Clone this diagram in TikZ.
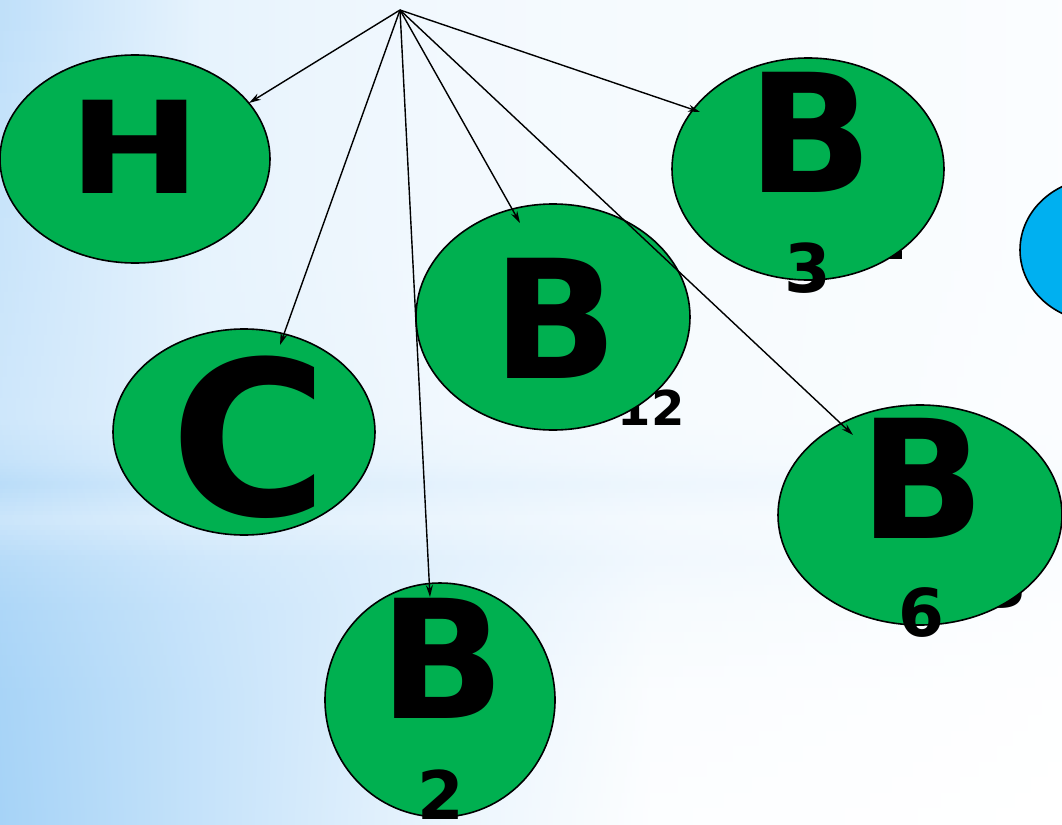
\documentclass[tikz,border=0pt]{standalone}
\usepackage{fontspec}
\setmainfont{DejaVu Sans}
\usetikzlibrary{shapes.geometric,arrows.meta}
\definecolor{bgblue}{HTML}{A6D3F7}
\definecolor{nodegreen}{HTML}{00B050}
\definecolor{skyblue}{HTML}{00B0F0}
\tikzset{
  oval/.style={ellipse, draw=black, line width=1.6pt, fill=nodegreen, inner sep=0pt},
  letter/.style={anchor=base, inner sep=0pt, font=\bfseries\fontsize{#1}{#1}\selectfont},
  link/.style={line width=1.4pt, -{Stealth[length=12pt,width=7pt]}}
}
\begin{document}
\begin{tikzpicture}[x=1pt,y=-1pt]
\useasboundingbox (0,0) rectangle (1062,824);
\clip (0,0) rectangle (1062,824);
% background: horizontal strips, each shaded left to right through five stops
\foreach \ya/\yb/\ia/\ib/\ic/\id/\ie/\ja/\jb/\jc/\jd/\je in {
   0/250/72/28/14/10/5/60/28/14/10/5,
   250/420/60/28/14/10/5/55/30/16/10/4,
   420/460/55/30/16/10/4/65/38/22/14/6,
   460/485/65/38/22/14/6/78/48/30/20/10,
   485/520/78/48/30/20/10/58/36/22/12/5,
   520/560/58/36/22/12/5/82/55/32/16/5,
   560/610/82/55/32/16/5/92/62/30/10/3,
   610/700/92/62/30/10/3/98/65/25/5/1,
   700/824/98/65/25/5/1/100/65/22/3/0}{
  \foreach \k in {0,...,7}{
    \pgfmathsetmacro\ytop{\ya+(\yb-\ya)*\k/8}
    \pgfmathsetmacro\ybot{\ya+(\yb-\ya)*(\k+1)/8+0.6}
    \pgfmathsetmacro\ff{(\k+0.5)/8}
    \pgfmathsetmacro\cA{\ia+(\ja-\ia)*\ff}
    \pgfmathsetmacro\cB{\ib+(\jb-\ib)*\ff}
    \pgfmathsetmacro\cC{\ic+(\jc-\ic)*\ff}
    \pgfmathsetmacro\cD{\id+(\jd-\id)*\ff}
    \pgfmathsetmacro\cE{\ie+(\je-\ie)*\ff}
    \shade[left color=bgblue!\cA!white, right color=bgblue!\cB!white] (0,\ytop) rectangle (200.6,\ybot);
    \shade[left color=bgblue!\cB!white, right color=bgblue!\cC!white] (200,\ytop) rectangle (450.6,\ybot);
    \shade[left color=bgblue!\cC!white, right color=bgblue!\cD!white] (450,\ytop) rectangle (650.6,\ybot);
    \shade[left color=bgblue!\cD!white, right color=bgblue!\cE!white] (650,\ytop) rectangle (1062,\ybot);
  }
}
% hidden labels (behind ovals)
\node[letter=67] (h1) at (884,259) {1};
\node[letter=48] (h12) at (651,425) {12};
\node[letter=66] (h3) at (1004,607) {3};
% ovals
\node[oval, minimum width=270pt, minimum height=208pt] (H) at (135,159) {};
\node[oval, minimum width=262pt, minimum height=206pt] (C) at (244,432) {};
\node[oval, minimum width=274pt, minimum height=226pt] (B12) at (553,317) {};
\node[oval, minimum width=272pt, minimum height=222pt] (B3) at (808,169) {};
\node[oval, minimum width=284pt, minimum height=220pt] (B6) at (920,515) {};
\node[oval, minimum width=230pt, minimum height=234pt] (B2) at (440,700) {};
\node[oval, fill=skyblue, minimum width=160pt, minimum height=144pt] (S) at (1100,250) {};
% letters
\node[letter=128] (tH) at (135,193) {\scalebox{1.24}[1]{H}};
\node[letter=215] (tC) at (249,515) {C};
\node[letter=165] (tB12) at (555,378) {B};
\node[letter=165] (tB3) at (810,192) {B};
\node[letter=165] (tB6) at (922,538) {B};
\node[letter=165] (tB2) at (442,718) {B};
\node[letter=67] (d3) at (808,292) {3};
\node[letter=66] (d6) at (921,636) {6};
\node[letter=67] (d2) at (441,819) {2};
% connectors
\coordinate (src) at (400,10);
\coordinate (eH) at (249,103);
\coordinate (eC) at (280,345);
\coordinate (eB2) at (430,597);
\coordinate (eB12) at (520,223);
\coordinate (eB3) at (700,112);
\coordinate (eB6) at (853,435);
\draw[link] (src) -- (eH);
\draw[link] (src) -- (eC);
\draw[link] (src) -- (eB2);
\draw[link] (src) -- (eB12);
\draw[link] (src) -- (eB3);
\draw[link] (src) -- (eB6);
\end{tikzpicture}
\end{document}
